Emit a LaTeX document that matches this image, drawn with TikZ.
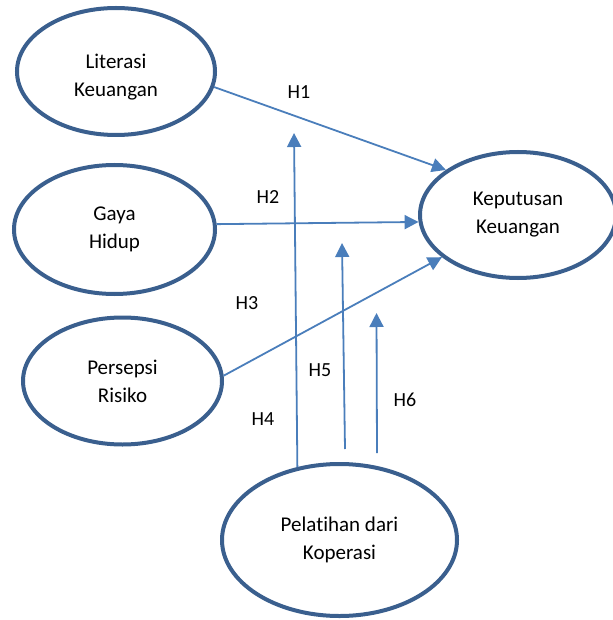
\documentclass[tikz,border=0pt]{standalone}
\usepackage{fontspec}
\setmainfont{Carlito}[Ligatures=NoCommon]
\usepackage{tikz}
\usetikzlibrary{positioning, shapes.geometric, arrows.meta}
\definecolor{ovalblue}{HTML}{3A5F8E}
\definecolor{arrowblue}{HTML}{4A7EBB}

\begin{document}
\begin{tikzpicture}[x=1pt, y=-1pt,
    construct/.style={ellipse, draw=ovalblue, line width=4pt, align=center,
        inner sep=0pt, font=\fontsize{21}{28}\selectfont},
    hyp/.style={-{Triangle[length=14pt,width=14pt]}, draw=arrowblue, line width=1.8pt},
    lbl/.style={font=\fontsize{20}{24}\selectfont}]
    \useasboundingbox (0,0) rectangle (612,620);

    % Constructs
    \node[construct, minimum width=198pt, minimum height=127pt, text height=56pt, text depth=6pt] (lit) at (116,71.5) {Literasi\\Keuangan};
    \node[construct, minimum width=201pt, minimum height=129pt] (gaya) at (114.5,229.5) {Gaya\\Hidup};
    \node[construct, minimum width=199pt, minimum height=127pt] (per) at (122.5,381) {Persepsi\\Risiko};
    \node[construct, minimum width=196pt, minimum height=126pt] (kep) at (518,215) {Keputusan\\Keuangan};
    \node[construct, minimum width=235pt, minimum height=152pt] (pel) at (339.5,540) {Pelatihan dari\\Koperasi};

    % Free ends of the moderating arrows
    \coordinate (h4tip) at (294,133);
    \coordinate (h5base) at (345,449);
    \coordinate (h5tip) at (342,243);
    \coordinate (h6base) at (377,453);
    \coordinate (h6tip) at (376.5,313);

    % Direct paths
    \draw[hyp] (lit.-9) -- (kep.148);
    \draw[hyp] (gaya.3) -- (kep.184);
    \draw[hyp] (per.3) -- (kep.209);

    % Moderating paths
    \draw[hyp] (pel.120) -- (h4tip);
    \draw[hyp] (h5base) -- (h5tip);
    \draw[hyp] (h6base) -- (h6tip);

    % Hypothesis labels
    \node[lbl] (l1) at (299,92) {H1};
    \node[lbl] (l2) at (268,197) {H2};
    \node[lbl] (l3) at (247,303) {H3};
    \node[lbl] (l4) at (263,419) {H4};
    \node[lbl] (l5) at (320,370) {H5};
    \node[lbl] (l6) at (405,400) {H6};
\end{tikzpicture}
\end{document}
